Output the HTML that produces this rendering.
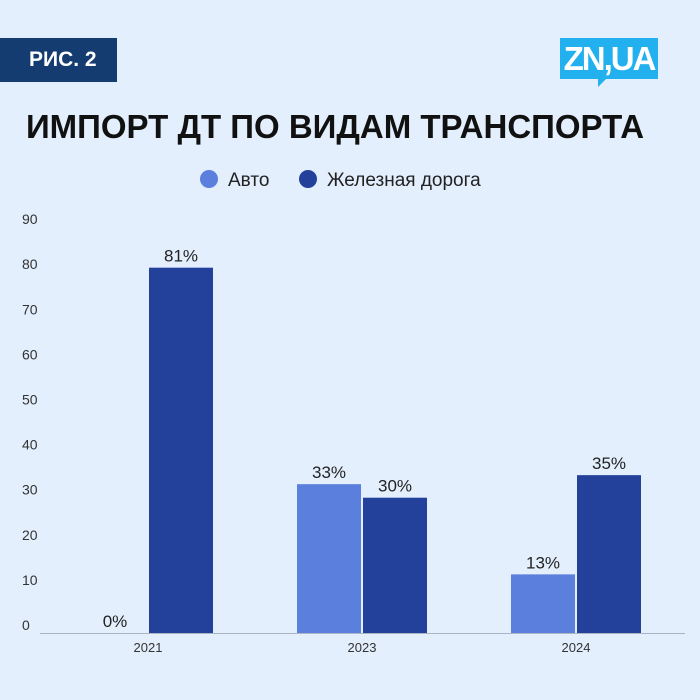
<!DOCTYPE html>
<html><head><meta charset="utf-8"><style>
body{margin:0;width:700px;height:700px;background:#e3effd;font-family:"Liberation Sans","DejaVu Sans",sans-serif;overflow:hidden;position:relative}
.tag{position:absolute;left:0;top:38px;width:117px;height:44px;background:#143c70;color:#fff;font-weight:bold;font-size:21px;line-height:44px;text-align:left;padding-left:29px;box-sizing:border-box}
.logo{position:absolute;left:560px;top:38px;width:98px;height:41px;background:#22b0ee;color:#fff;font-weight:bold;font-size:33px;line-height:41px;text-align:center;letter-spacing:-2px}
.logo:after{content:"";position:absolute;left:38px;top:41px;border-left:8px solid #22b0ee;border-bottom:8px solid transparent}
.title{position:absolute;left:0;width:670px;top:108px;text-align:center;font-weight:bold;font-size:33px;color:#111}
</style></head><body>
<div class="tag">РИС. 2</div>
<div class="logo">ZN,UA</div>
<div class="title">ИМПОРТ ДТ ПО ВИДАМ ТРАНСПОРТА</div>
<svg id="chart" width="700" height="700" style="position:absolute;left:0;top:0"></svg>
<script>
const categories=["2021","2023","2024"];
const autoValues=[0,33,13];
const railValues=[81,30,35];
const autoLabels=["0%","33%","13%"];
const railLabels=["81%","30%","35%"];
const yTicks=[0,10,20,30,40,50,60,70,80,90];
const svg=document.getElementById('chart');
const NS="http://www.w3.org/2000/svg";
const y0=633,k=4.51,cx0=148,step=214,bw=64,gap=2;
const yS=v=>y0-v*k;
const xC=i=>cx0+i*step;
function mk(t,a,txt){const e=document.createElementNS(NS,t);for(const n in a)e.setAttribute(n,a[n]);if(txt!==undefined)e.textContent=txt;svg.appendChild(e);return e;}
let e;
e=mk('circle',{cx:209,cy:179,r:9,fill:'#5b7fdd'});


e=mk('text',{x:228,y:186,'font-size':19,fill:'#222'},'Авто');


e=mk('circle',{cx:308,cy:179,r:9,fill:'#23409a'});


e=mk('text',{x:327,y:186,'font-size':19,fill:'#222'},'Железная дорога');


yTicks.forEach(v=>{
 e=mk('text',{x:22,y:yS(v)-3,'font-size':14,fill:'#333'},String(v));
 
 
});
e=mk('line',{x1:40,x2:685,y1:y0+0.5,y2:y0+0.5,stroke:'#aab4c4','stroke-width':1});


categories.forEach((c,i)=>{
 const cx=xC(i);
 const ax=cx-gap/2-bw, rx=cx+gap/2;
 e=mk('rect',{x:ax,y:yS(autoValues[i]),width:bw,height:autoValues[i]*k,fill:'#5b7fdd'});
 
 
 e=mk('rect',{x:rx,y:yS(railValues[i]),width:bw,height:railValues[i]*k,fill:'#23409a'});
 
 
 e=mk('text',{x:ax+bw/2,y:yS(autoValues[i])-6,'font-size':17,fill:'#222','text-anchor':'middle'},autoLabels[i]);
 
 
 e=mk('text',{x:rx+bw/2,y:yS(railValues[i])-6,'font-size':17,fill:'#222','text-anchor':'middle'},railLabels[i]);
 
 
 e=mk('text',{x:cx,y:652,'font-size':13,fill:'#333','text-anchor':'middle'},c);
 
 
});
</script>
</body></html>
